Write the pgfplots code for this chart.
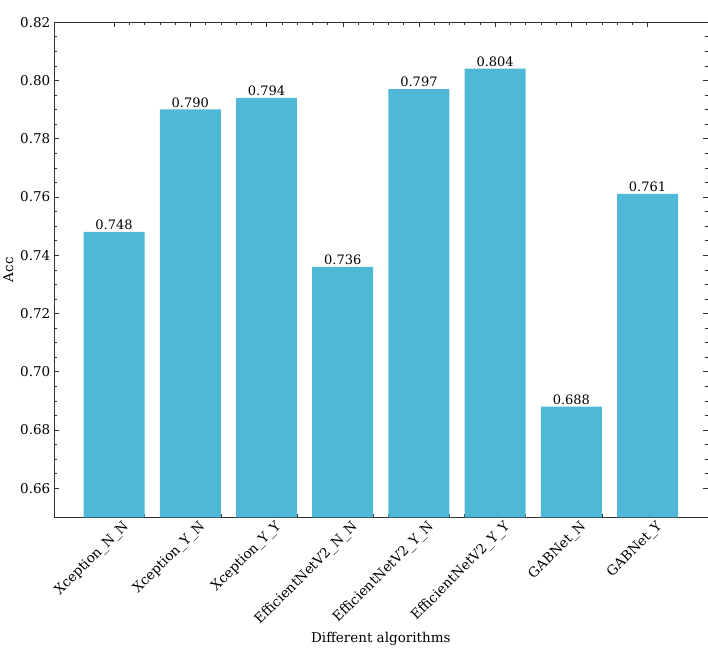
\documentclass[border=0pt]{standalone}
\usepackage{fontspec}
\setmainfont{DejaVu Serif}
\usepackage{pgfplots}
\pgfplotsset{compat=1.18}
\definecolor{barblue}{RGB}{78,184,214}
\definecolor{axgray}{RGB}{50,50,50}
\begin{document}
\begin{tikzpicture}
\begin{axis}[
  width=651bp, height=493bp, scale only axis,
  xmin=-0.79, xmax=7.79, ymin=0.65, ymax=0.82,
  ybar, bar width=0.8,
  axis line style={axgray},
  every tick/.style={axgray},
  xtick={0,1,2,3,4,5,6,7},
  xticklabels={Xception\_N\_N,Xception\_Y\_N,Xception\_Y\_Y,EfficientNetV2\_N\_N,EfficientNetV2\_Y\_N,EfficientNetV2\_Y\_Y,GABNet\_N,GABNet\_Y},
  x tick label style={rotate=45, anchor=north east, inner sep=0bp, yshift=-7bp, xshift=4bp},
  ytick={0.66,0.68,0.70,0.72,0.74,0.76,0.78,0.80,0.82},
  minor x tick num=4, minor y tick num=3,
  tick align=inside, xtick pos=both, ytick pos=both,
  major tick length=5bp, minor tick length=3bp,
  tick label style={font=\fontsize{13.5}{16}\selectfont},
  label style={font=\fontsize{13.5}{16}\selectfont},
  /pgf/number format/assume math mode=true,
  y tick label style={/pgf/number format/.cd, fixed, fixed zerofill, precision=2},
  nodes near coords,
  nodes near coords style={font=\fontsize{13}{15}\selectfont, inner sep=2bp,
    /pgf/number format/.cd, fixed, fixed zerofill, precision=3},
  xlabel={Different algorithms}, ylabel={Acc},
  xlabel style={yshift=-1bp},
]
\addplot[fill=barblue, draw=none] coordinates {
 (0,0.748)(1,0.790)(2,0.794)(3,0.736)(4,0.797)(5,0.804)(6,0.688)(7,0.761)
};
\end{axis}
\path ([yshift=22bp]current axis.north);
\end{tikzpicture}
\end{document}
